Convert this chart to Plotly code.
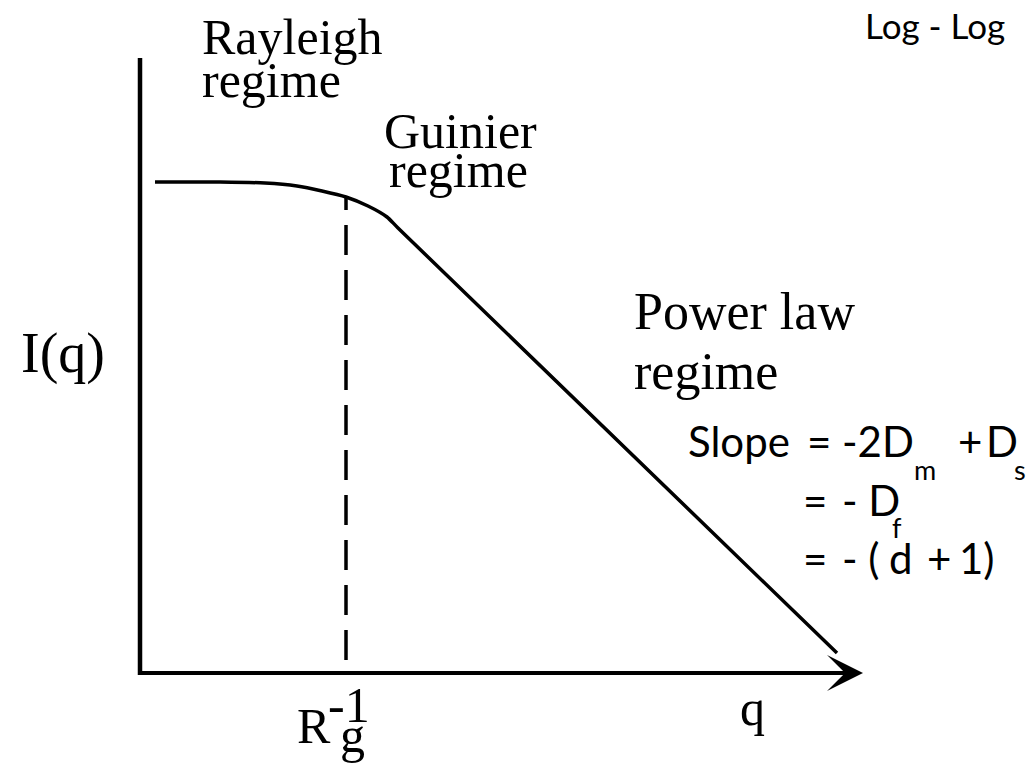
import plotly.graph_objects as go

# Schematic scattering curve on log-log axes (arbitrary decades).
# log q and log I values along the curve: Rayleigh plateau, Guinier knee, power-law tail
log_q = [0.15, 0.80, 1.25, 1.57, 1.82, 2.06, 2.28, 2.47, 2.58, 6.97]
log_I = [4.91, 4.91, 4.90, 4.87, 4.82, 4.76, 4.67, 4.56, 4.45, 0.20]

# Guinier cross-over position q = 1/Rg and the extent of its marker line
rg_inv = 2.06
rg_line_I = [0.13, 4.76]

# axis extents
q_axis = [-0.02, 7.23]
I_axis = [-0.02, 6.15]

SERIF = "Liberation Serif"
SANS = "Lato"

fig = go.Figure()

# vertical I(q) axis
fig.add_trace(go.Scatter(x=[0, 0], y=I_axis, mode="lines",
                         line=dict(color="black", width=4.5), hoverinfo="skip"))
# horizontal q axis (arrow head added as an annotation)
fig.add_trace(go.Scatter(x=[q_axis[0], q_axis[1] - 0.3], y=[0, 0], mode="lines",
                         line=dict(color="black", width=4), hoverinfo="skip"))
# dashed 1/Rg marker
fig.add_trace(go.Scatter(x=[rg_inv, rg_inv], y=rg_line_I, mode="lines",
                         line=dict(color="black", width=3.5, dash="30px,15px"),
                         hoverinfo="skip"))
# scattering curve
fig.add_trace(go.Scatter(x=log_q, y=log_I, mode="lines",
                         line=dict(color="black", width=3.5, shape="spline", smoothing=0.6),
                         hoverinfo="skip"))

annotations = [
    # arrow head on the q axis
    dict(x=q_axis[1], y=0, ax=q_axis[1] - 0.5, ay=0, axref="x", ayref="y",
         xref="x", yref="y", showarrow=True, arrowhead=3, arrowsize=1.5,
         arrowwidth=4, arrowcolor="black", text=""),
]


def label(text, x, y, size, family=SERIF):
    annotations.append(dict(text=text, x=x, y=y, xref="x", yref="y",
                            xanchor="left", yanchor="middle", showarrow=False,
                            font=dict(family=family, size=size, color="black")))


# regime names
label("Rayleigh", 0.60, 6.36, 50)
label("regime", 0.60, 5.93, 50)
label("Guinier", 2.42, 5.42, 50)
label("regime", 2.47, 5.03, 50)
label("Power law", 4.92, 3.62, 52)
label("regime", 4.92, 3.02, 52)

# axis titles and the 1/Rg tick
label("I(q)", -1.21, 3.20, 56)
label("q", 5.98, -0.35, 50)
label("R", 1.55, -0.53, 50)
label("g", 1.98, -0.62, 50)
label("-1", 1.86, -0.32, 50)

label("Log - Log", 7.23, 6.48, 35, SANS)

# slope relations for the power-law regime
MAIN, SUB = 42, 27
label("Slope", 5.46, 2.32, MAIN, SANS)
label("=", 6.65, 2.32, MAIN, SANS)
label("-2D", 7.00, 2.32, MAIN, SANS)
label("m", 7.72, 2.04, SUB, SANS)
label("+", 8.16, 2.32, MAIN, SANS)
label("D", 8.44, 2.32, MAIN, SANS)
label("s", 8.72, 2.04, SUB, SANS)

label("=", 6.61, 1.73, MAIN, SANS)
label("- D", 7.00, 1.73, MAIN, SANS)
label("f", 7.50, 1.46, SUB, SANS)

label("=", 6.61, 1.15, MAIN, SANS)
label("- (", 7.00, 1.15, MAIN, SANS)
label("d", 7.47, 1.15, MAIN, SANS)
label("+", 7.85, 1.15, MAIN, SANS)
label("1)", 8.17, 1.15, MAIN, SANS)

fig.update_layout(
    width=1026, height=770,
    margin=dict(l=0, r=0, t=0, b=0),
    paper_bgcolor="white", plot_bgcolor="white",
    showlegend=False,
    xaxis=dict(range=[-1.40, 8.86], visible=False, fixedrange=True),
    yaxis=dict(range=[-0.97, 6.73], visible=False, fixedrange=True),
    annotations=annotations,
)

fig.write_html("out.html")
